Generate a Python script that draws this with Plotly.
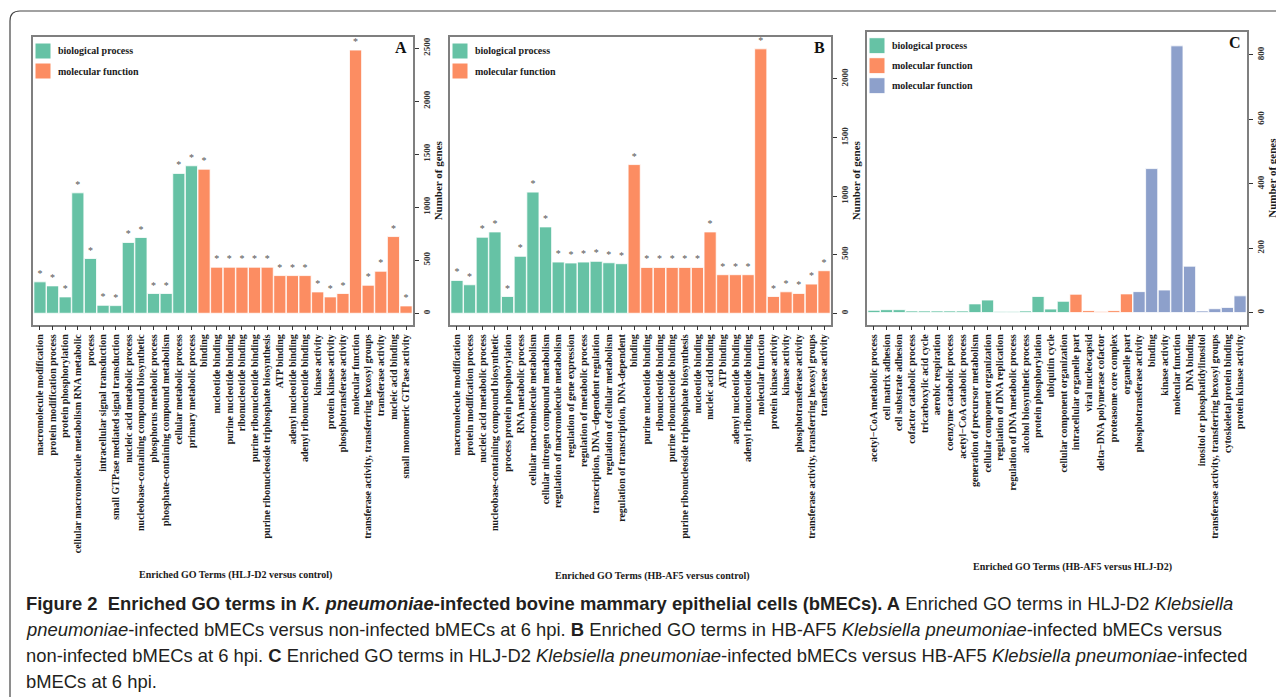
import plotly.graph_objects as go

# The page body has an 8px margin, so the figure is drawn 8px in from the
# window's top-left corner; all pixel positions below are window pixels.
OFF = 8
W, H = 1284 - OFF, 697 - OFF
SERIF = "Liberation Serif, Times New Roman, serif"
SANS = "Liberation Sans, Arial, sans-serif"
COLORS = {"BP": "#66C2A5", "MF": "#FC8D62", "MF2": "#8DA0CB"}

# ---------------- Panel A : HLJ-D2 versus control ----------------
a_labels = [
    "macromolecule modification", "protein modification process", "protein phosphorylation",
    "cellular macromolecule metabolism RNA metabolic", "process", "intracellular signal transduction",
    "small GTPase mediated signal transduction", "nucleic acid metabolic process",
    "nucleobase-containing compound biosynthetic", "phosphorus metabolic process",
    "phosphate-containing compound metabolism", "cellular metabolic process",
    "primary metabolic process", "binding", "nucleotide binding", "purine nucleotide binding",
    "ribonucleotide binding", "purine ribonucleotide binding",
    "purine ribonucleoside triphosphate biosynthesis", "ATP binding", "adenyl nucleotide binding",
    "adenyl ribonucleotide binding", "kinase activity", "protein kinase activity",
    "phosphotransferase activity", "molecular function",
    "transferase activity, transferring hexosyl groups", "transferase activity",
    "nucleic acid binding", "small monomeric GTPase activity"]
a_values = [296, 258, 154, 1135, 516, 75, 72, 667, 714, 186, 186, 1318, 1390,
            1358, 434, 434, 434, 434, 434, 355, 355, 355, 201, 154, 186, 2481, 264, 396, 723, 69]
a_groups = ["BP"] * 13 + ["MF"] * 17
a_ticks = [0, 500, 1000, 1500, 2000, 2500]
a_legend = [("BP", "biological process"), ("MF", "molecular function")]
a_title = "Enriched GO Terms (HLJ-D2 versus control)"

# ---------------- Panel B : HB-AF5 versus control ----------------
b_labels = [
    "macromolecule modification", "protein modification process", "nucleic acid metabolic process",
    "nucleobase-containing compound biosynthetic", "process protein phosphorylation",
    "RNA metabolic process", "cellular macromolecule metabolism",
    "cellular nitrogen compound metabolism", "regulation of macromolecule metabolism",
    "regulation of gene expression", "regulation of metabolic process",
    "transcription, DNA\u2212dependent regulation", "regulation of cellular metabolism",
    "regulation of transcription, DNA-dependent", "binding", "purine nucleotide binding",
    "ribonucleotide binding", "purine ribonucleotide binding",
    "purine ribonucleoside triphosphate biosynthesis", "nucleotide binding",
    "nucleic acid binding", "ATP binding", "adenyl nucleotide binding",
    "adenyl ribonucleotide binding", "molecular function", "protein kinase activity",
    "kinase activity", "phosphotransferase activity",
    "transferase activity, transferring hexosyl groups", "transferase activity"]
b_values = [280, 243, 649, 694, 143, 486, 1034, 737, 437, 429, 437, 443, 431, 423,
            1269, 391, 391, 391, 391, 391, 694, 329, 329, 329, 2257, 143, 183, 169, 249, 363]
b_groups = ["BP"] * 14 + ["MF"] * 16
b_ticks = [0, 500, 1000, 1500, 2000]
b_legend = [("BP", "biological process"), ("MF", "molecular function")]
b_title = "Enriched GO Terms (HB-AF5 versus control)"

# ---------------- Panel C : HB-AF5 versus HLJ-D2 ----------------
c_labels = [
    "acetyl\u2212CoA metabolic process", "cell matrix adhesion", "cell substrate adhesion",
    "cofactor catabolic process", "tricarboxylic acid cycle", "aerobic respiration",
    "coenzyme catabolic process", "acetyl\u2212CoA catabolic process",
    "generation of precursor metabolism", "cellular component organization",
    "regulation of DNA replication", "regulation of DNA metabolic process",
    "alcohol biosynthetic process", "protein phosphorylation", "ubiquitin cycle",
    "cellular component organization", "intracellular organelle part", "viral nucleocapsid",
    "delta\u2212DNA polymerase cofactor", "proteasome core complex", "organelle part",
    "phosphotransferase activity", "binding", "kinase activity", "molecular function",
    "DNA binding", "inositol or phosphatidylinositol",
    "transferase activity, transferring hexosyl groups", "cytoskeletal protein binding",
    "protein kinase activity"]
c_values = [7, 9, 9, 5, 5, 5, 5, 5, 27, 39, 3, 3, 5, 50, 11, 35,
            57, 6, 3, 6, 58, 65, 447, 70, 828, 144, 5, 12, 16, 52]
c_groups = ["BP"] * 16 + ["MF"] * 5 + ["MF2"] * 9
c_ticks = [0, 200, 400, 600, 800]
c_legend = [("BP", "biological process"), ("MF", "molecular function"), ("MF2", "molecular function")]
c_title = "Enriched GO Terms (HB-AF5 versus HLJ-D2)"

caption_lines = [
    "<b>Figure 2  Enriched GO terms in <i>K. pneumoniae</i>-infected bovine mammary epithelial cells (bMECs). A</b> Enriched GO terms in HLJ-D2 <i>Klebsiella</i>",
    "<i>pneumoniae</i>-infected bMECs versus non-infected bMECs at 6 hpi. <b>B</b> Enriched GO terms in HB-AF5 <i>Klebsiella pneumoniae</i>-infected bMECs versus",
    "non-infected bMECs at 6 hpi. <b>C</b> Enriched GO terms in HLJ-D2 <i>Klebsiella pneumoniae</i>-infected bMECs versus HB-AF5 <i>Klebsiella pneumoniae</i>-infected",
    "bMECs at 6 hpi.",
]


def px(x):
    return (x - OFF) / W


def py(y):
    return 1 - (y - OFF) / H


panels = [
    dict(labels=a_labels, values=a_values, groups=a_groups, ticks=a_ticks, legend=a_legend,
         title=a_title, letter="A", stars=True, L=33, R=413, T=37, B=324.5, yr=[-106, 2604],
         tx=235, ty=575),
    dict(labels=b_labels, values=b_values, groups=b_groups, ticks=b_ticks, legend=b_legend,
         title=b_title, letter="B", stars=True, L=450, R=831, T=37, B=324.5, yr=[-96, 2358],
         tx=652, ty=576),
    dict(labels=c_labels, values=c_values, groups=c_groups, ticks=c_ticks, legend=c_legend,
         title=c_title, letter="C", stars=False, L=867, R=1247, T=31.7, B=324.5, yr=[-37, 872],
         tx=1072, ty=567),
]

fig = go.Figure()
layout = dict(width=W, height=H, margin=dict(l=0, r=0, t=0, b=0),
              paper_bgcolor="white", plot_bgcolor="white", showlegend=False,
              bargap=0.05)
shapes = []
annotations = []

for i, p in enumerate(panels, start=1):
    n = len(p["labels"])
    xa = "x" if i == 1 else f"x{i}"
    ya = "y" if i == 1 else f"y{i}"
    fig.add_trace(go.Bar(
        x=list(range(n)), y=p["values"], xaxis=xa, yaxis=ya,
        marker=dict(color=[COLORS[g] for g in p["groups"]], line=dict(color="white", width=0.8)),
        width=0.96,
        text=["*"] * n if p["stars"] else None,
        textposition="outside" if p["stars"] else "none",
        textfont=dict(family=SERIF, size=10, color="#555555"),
        cliponaxis=False,
        hovertemplate="%{customdata}: %{y}<extra></extra>",
        customdata=p["labels"],
    ))
    layout["xaxis" if i == 1 else f"xaxis{i}"] = dict(
        domain=[px(p["L"]), px(p["R"])], anchor=ya,
        range=[-0.55, n - 0.45], tickmode="array", tickvals=list(range(n)),
        ticktext=p["labels"], tickangle=-90,
        ticks="outside", ticklen=4, tickwidth=1, tickcolor="#333333",
        showline=True, linecolor="#7f7f7f", linewidth=1.5, mirror=True,
        showgrid=False, zeroline=False,
        tickfont=dict(family=SERIF, size=10, color="#1a1a1a", weight="bold"))
    layout["yaxis" if i == 1 else f"yaxis{i}"] = dict(
        domain=[py(p["B"]), py(p["T"])], anchor=xa, side="right",
        range=p["yr"], tickmode="array", tickvals=p["ticks"],
        ticktext=[str(t) for t in p["ticks"]], tickangle=-90,
        ticks="outside", ticklen=4, tickwidth=1, tickcolor="#333333",
        showline=True, linecolor="#7f7f7f", linewidth=1.5, mirror=True,
        showgrid=False, zeroline=False,
        tickfont=dict(family=SERIF, size=9, color="#333333", weight="bold"),
        title=dict(text="Number of genes", standoff=0,
                   font=dict(family=SERIF, size=11, color="#1a1a1a", weight="bold")))

    # custom legend (large swatches)
    for k, (g, name) in enumerate(p["legend"]):
        top = p["T"] + 6 + 20 * k
        shapes.append(dict(type="rect", xref="paper", yref="paper",
                           x0=px(p["L"] + 2), x1=px(p["L"] + 18), y0=py(top + 16), y1=py(top),
                           fillcolor=COLORS[g], line=dict(color="white", width=1)))
        annotations.append(dict(xref="paper", yref="paper", x=px(p["L"] + 23), y=py(top + 8),
                                xanchor="left", yanchor="middle", showarrow=False,
                                text=f"<b>{name}</b>",
                                font=dict(family=SERIF, size=10, color="#1a1a1a")))
    # panel letter
    annotations.append(dict(xref="paper", yref="paper", x=px(p["R"] - 12), y=py(p["T"] + 11),
                            xanchor="center", yanchor="middle", showarrow=False,
                            text=f"<b>{p['letter']}</b>",
                            font=dict(family=SERIF, size=16, color="#111111")))
    # x axis title
    annotations.append(dict(xref="paper", yref="paper", x=px(p["tx"]), y=py(p["ty"]),
                            xanchor="center", yanchor="middle", showarrow=False,
                            text=f"<b>{p['title']}</b>",
                            font=dict(family=SERIF, size=10, color="#1a1a1a")))

# caption
for k, line in enumerate(caption_lines):
    annotations.append(dict(xref="paper", yref="paper", x=px(24), y=py(603 + 26.3 * k),
                            xanchor="left", yanchor="middle", showarrow=False, align="left",
                            text=line, font=dict(family=SANS, size=18.4, color="#231f20")))

# outer rounded frame (open to the right and bottom, like the crop)
path = (f"M {px(1300)},{py(11)} L {px(20)},{py(11)} "
        f"Q {px(10)},{py(11)} {px(10)},{py(21)} L {px(10)},{py(710)}")
shapes.append(dict(type="path", xref="paper", yref="paper", path=path,
                   line=dict(color="#444444", width=1.2)))

layout["shapes"] = shapes
layout["annotations"] = annotations
fig.update_layout(**layout)
fig.write_html("out.html")
